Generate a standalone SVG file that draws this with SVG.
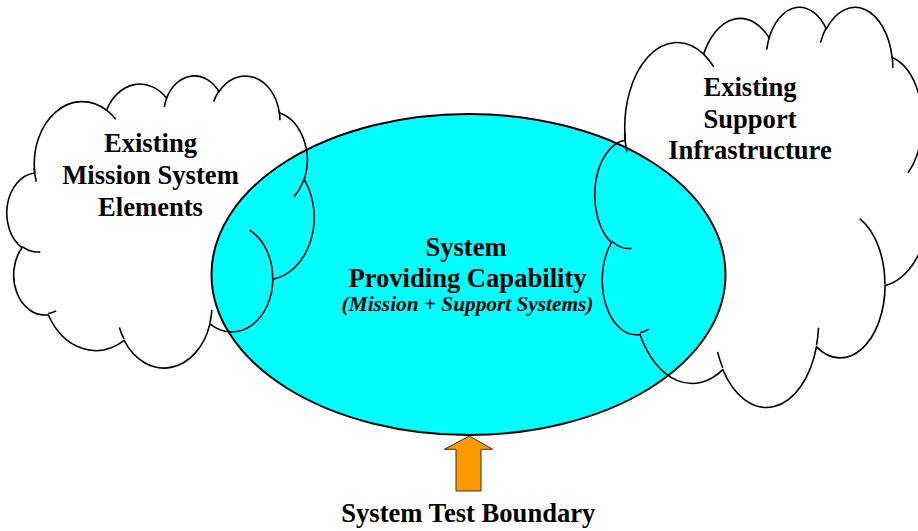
<svg xmlns="http://www.w3.org/2000/svg" width="918" height="531" viewBox="0 0 918 531">
<style>
.bg{fill:#ffffff}
.ell{fill:#00ffff;stroke:#000000;stroke-width:2}
.cloud{fill:none;stroke:#000000;stroke-width:1.6;vector-effect:non-scaling-stroke;stroke-linejoin:round}
.lbl{font-family:"Liberation Serif","Times New Roman",serif;font-weight:bold;font-size:26.6px;fill:#000000;text-anchor:middle}
.sub{font-family:"Liberation Serif","Times New Roman",serif;font-weight:bold;font-style:italic;font-size:21.3px;fill:#000000;text-anchor:middle}
.arrow{fill:#ff9900;stroke:#333333;stroke-width:1}
</style>
<rect class="bg" x="0" y="0" width="918" height="531"/>
<g id="system">
  <ellipse class="ell" cx="468.5" cy="274.5" rx="257" ry="160.5"/>
  <text class="lbl" x="466" y="256">System</text>
  <text class="lbl" x="467.5" y="287">Providing Capability</text>
  <text class="sub" x="467.5" y="311">(Mission + Support Systems)</text>
</g>
<g id="mission-elements">
  <g transform="translate(7,75) scale(0.0071065,0.0067593)">
    <path class="cloud" d="M3900 14370 A6753 9190 0 0 1 14004 5199 A5333 7267 0 0 1 22456 3429 A4365 5945 0 0 1 29834 2478 A4857 6595 0 0 1 38319 5573 A5333 7273 0 0 1 41820 15457 A6775 9220 0 0 1 37405 30199 A5785 7867 0 0 1 28556 36810 A6752 9215 0 0 1 16482 39264 A7720 10543 0 0 1 5806 35469 A4360 5918 0 0 1 2114 25547 A4345 5945 0 0 1 3864 14504 Z"/>
    <path class="cloud" d="M4693 26177 A4345 5945 0 0 1 2160 25379 M6928 34899 A4360 5918 0 0 1 5819 35281 M16478 39090 A6752 9215 0 0 1 15809 37348 M28827 34751 A6752 9215 0 0 1 28560 36660 M34129 22954 A5785 7867 0 0 1 37381 30089 M41798 15354 A5333 7273 0 0 1 40348 18031 M38324 5426 A4857 6595 0 0 1 38401 6689 M29078 3952 A4857 6595 0 0 1 29820 2340 M22141 4720 A4365 5945 0 0 1 22500 3330 M14000 5192 A6753 9190 0 0 1 15304 6545 M4127 15789 A6753 9190 0 0 1 3814 13779"/>
  </g>
  <text class="lbl" x="150.5" y="152">Existing</text>
  <text class="lbl" x="150.5" y="184">Mission System</text>
  <text class="lbl" x="150.5" y="215.5">Elements</text>
</g>
<g id="support-infrastructure">
  <g transform="translate(595,6) scale(0.0077546,0.0092593)">
    <path class="cloud" d="M3900 14370 A6753 9190 0 0 1 14004 5199 A5333 7267 0 0 1 22456 3429 A4365 5945 0 0 1 29834 2478 A4857 6595 0 0 1 38319 5573 A5333 7273 0 0 1 41820 15457 A6775 9220 0 0 1 37405 30199 A5785 7867 0 0 1 28556 36810 A6752 9215 0 0 1 16482 39264 A7720 10543 0 0 1 5806 35469 A4360 5918 0 0 1 2114 25547 A4345 5945 0 0 1 3864 14504 Z"/>
    <path class="cloud" d="M4693 26177 A4345 5945 0 0 1 2160 25379 M6928 34899 A4360 5918 0 0 1 5819 35281 M16478 39090 A6752 9215 0 0 1 15809 37348 M28827 34751 A6752 9215 0 0 1 28560 36660 M34129 22954 A5785 7867 0 0 1 37381 30089 M41798 15354 A5333 7273 0 0 1 40348 18031 M38324 5426 A4857 6595 0 0 1 38401 6689 M29078 3952 A4857 6595 0 0 1 29820 2340 M22141 4720 A4365 5945 0 0 1 22500 3330 M14000 5192 A6753 9190 0 0 1 15304 6545 M4127 15789 A6753 9190 0 0 1 3814 13779"/>
  </g>
  <text class="lbl" x="750" y="96">Existing</text>
  <text class="lbl" x="750" y="127.5">Support</text>
  <text class="lbl" x="750" y="159">Infrastructure</text>
</g>
<g id="connectors">
  <polygon class="arrow" points="469.3,436 492.7,449.3 481,449.3 481,491 456,491 456,449.3 444.3,449.3"/>
</g>
<g id="test-boundary">
  <text class="lbl" x="468.3" y="521.5">System Test Boundary</text>
</g>
</svg>
